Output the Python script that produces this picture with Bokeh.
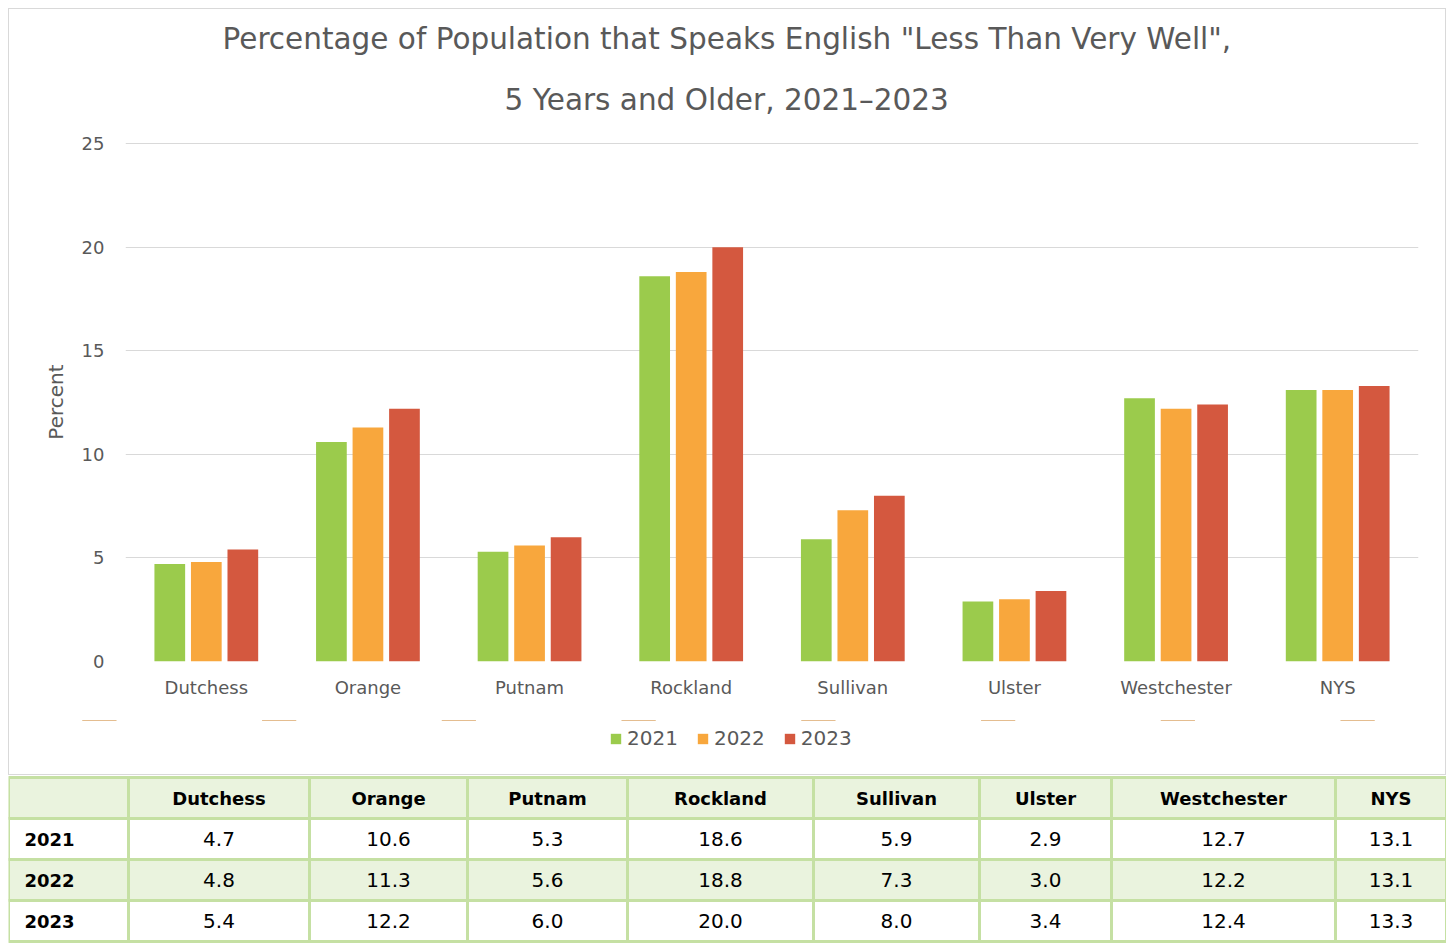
from bokeh.plotting import figure
from bokeh.models import (ColumnDataSource, FactorRange, Range1d, Legend, LegendItem, Title,
                          FixedTicker)
from bokeh.transform import dodge
from bokeh.embed import file_html
from bokeh.resources import INLINE
from bokeh.core.properties import value

# ---------------- data ----------------
counties = ["Dutchess", "Orange", "Putnam", "Rockland", "Sullivan", "Ulster", "Westchester", "NYS"]
years = ["2021", "2022", "2023"]
pct_2021 = [4.7, 10.6, 5.3, 18.6, 5.9, 2.9, 12.7, 13.1]
pct_2022 = [4.8, 11.3, 5.6, 18.8, 7.3, 3.0, 12.2, 13.1]
pct_2023 = [5.4, 12.2, 6.0, 20.0, 8.0, 3.4, 12.4, 13.3]
y_ticks = [0, 5, 10, 15, 20, 25]
title_lines = ['Percentage of Population that Speaks English "Less Than Very Well",',
               '5 Years and Older, 2021\u20132023']
y_label = "Percent"

# ---------------- style ----------------
series = [pct_2021, pct_2022, pct_2023]
colors = ["#9BCB4C", "#F8A73D", "#D4583F"]
FONT = "DejaVu Sans"
GREY = "#595959"
BORDER = "1px solid #D9D9D9"

src = ColumnDataSource(dict(county=counties, **{"y" + yr: s for yr, s in zip(years, series)}))

p = figure(x_range=FactorRange(factors=counties, range_padding=0), y_range=Range1d(0, 25.05),
           width=1438, height=712, output_backend="svg", toolbar_location=None,
           min_border_left=116, min_border_right=29, min_border_top=133, min_border_bottom=60,
           margin=(8, 0, 0, 8))
p.styles = {"border-top": BORDER, "border-left": BORDER, "border-right": BORDER,
            "box-sizing": "border-box"}

offsets = [-0.226, 0.0, 0.226]
for yr, off, c in zip(years, offsets, colors):
    p.vbar(x=dodge("county", off, range=p.x_range), top="y" + yr, width=0.19,
           source=src, fill_color=c, line_color=None)

p.xaxis.major_label_text_font = FONT
p.xaxis.major_label_text_font_size = "18px"
p.xaxis.major_label_text_color = GREY
p.xaxis.axis_line_color = None
p.xaxis.major_tick_line_color = None
p.xaxis.minor_tick_line_color = None
p.xaxis.major_label_standoff = 9

p.yaxis.ticker = FixedTicker(ticks=y_ticks)
p.yaxis.major_label_text_font = FONT
p.yaxis.major_label_text_font_size = "18px"
p.yaxis.major_label_text_color = GREY
p.yaxis.axis_line_color = None
p.yaxis.major_tick_line_color = None
p.yaxis.minor_tick_line_color = None
p.yaxis.major_label_standoff = 15
p.yaxis.axis_label = y_label
p.yaxis.axis_label_text_font = FONT
p.yaxis.axis_label_text_font_size = "20px"
p.yaxis.axis_label_text_font_style = "normal"
p.yaxis.axis_label_text_color = GREY
p.yaxis.axis_label_standoff = 11

p.xgrid.grid_line_color = None
p.ygrid.grid_line_color = "#D9D9D9"
p.outline_line_color = None

title_offsets = [97, 379]
title_standoffs = [0, 51]
for line, off, so in reversed(list(zip(title_lines, title_offsets, title_standoffs))):
    p.add_layout(Title(text=line, align="left", offset=off, text_font=FONT,
                       text_font_size="29.5px", text_font_style="normal", text_color=GREY,
                       standoff=so), "above")

# ---------------- legend strip (inside the chart box) ----------------
lg = figure(width=1438, height=55, x_range=FactorRange(factors=counties), y_range=Range1d(-2, -1),
            output_backend="svg", toolbar_location=None, min_border=0,
            x_axis_type=None, y_axis_type=None, margin=(0, 0, 0, 8))
lg.styles = {"border-bottom": BORDER, "border-left": BORDER, "border-right": BORDER,
             "box-sizing": "border-box"}
lg.grid.visible = False
lg.outline_line_color = None
items = []
for yr, c in zip(years, colors):
    r = lg.vbar(x="county", top="y" + yr, bottom="y" + yr, width=0.19, source=src,
                fill_color=c, line_color=None)
    items.append(LegendItem(label=yr, renderers=[r]))
legend = Legend(items=items, orientation="horizontal", location=(600, 25),
                glyph_width=13, glyph_height=13,
                label_text_font=FONT, label_text_font_size="20px", label_text_color=GREY,
                spacing=18, label_standoff=5, padding=0, margin=0,
                border_line_color=None, background_fill_alpha=0)
lg.add_layout(legend, "center")

# ---------------- table ----------------
col_w = [120, 181, 158, 160, 186, 166, 132, 224, 111]
row_h = [41, 41, 41, 41]
top0 = 2
x_edges = [0]
for w in col_w:
    x_edges.append(x_edges[-1] + w)
y_edges = [top0]
for h in row_h:
    y_edges.append(y_edges[-1] + h)

t = figure(width=1438, height=168, x_range=Range1d(0, 1438), y_range=Range1d(168, 0),
           output_backend="svg", toolbar_location=None, min_border=0,
           x_axis_type=None, y_axis_type=None, margin=(0, 0, 0, 8))
t.grid.visible = False
t.outline_line_color = None

L, R, T, B, F = [], [], [], [], []
for ri in range(4):
    for ci in range(len(col_w)):
        L.append(x_edges[ci]); R.append(x_edges[ci + 1])
        T.append(y_edges[ri]); B.append(y_edges[ri + 1])
        F.append("#EAF3DE" if ri in (0, 2) else "#FFFFFF")
t.quad(left=L, right=R, top=T, bottom=B, fill_color=F, line_color="#C5E0A3", line_width=3)

rows_vals = [pct_2021, pct_2022, pct_2023]
hx, hy, ht = [], [], []
for ci, name in enumerate(counties):
    hx.append((x_edges[ci + 1] + x_edges[ci + 2]) / 2)
    hy.append((y_edges[0] + y_edges[1]) / 2)
    ht.append(name)
yx, yy, yt = [], [], []
vx, vy, vt = [], [], []
for ri, (yr, vals) in enumerate(zip(years, rows_vals)):
    cy = (y_edges[ri + 1] + y_edges[ri + 2]) / 2
    yx.append(x_edges[0] + 16); yy.append(cy); yt.append(yr)
    for ci, v in enumerate(vals):
        vx.append((x_edges[ci + 1] + x_edges[ci + 2]) / 2); vy.append(cy); vt.append(f"{v:.1f}")

t.text(x=hx + yx, y=hy + yy, text=ht + yt, text_align=["center"] * len(hx) + ["left"] * len(yx),
       text_baseline="middle", text_font=value(FONT), text_font_style="bold",
       text_font_size="18px", text_color="#000000")
t.text(x=vx, y=vy, text=vt, text_align="center", text_baseline="middle",
       text_font=value(FONT), text_font_size="20px", text_color="#000000")

open("out.html", "w").write(file_html([p, lg, t], INLINE))
